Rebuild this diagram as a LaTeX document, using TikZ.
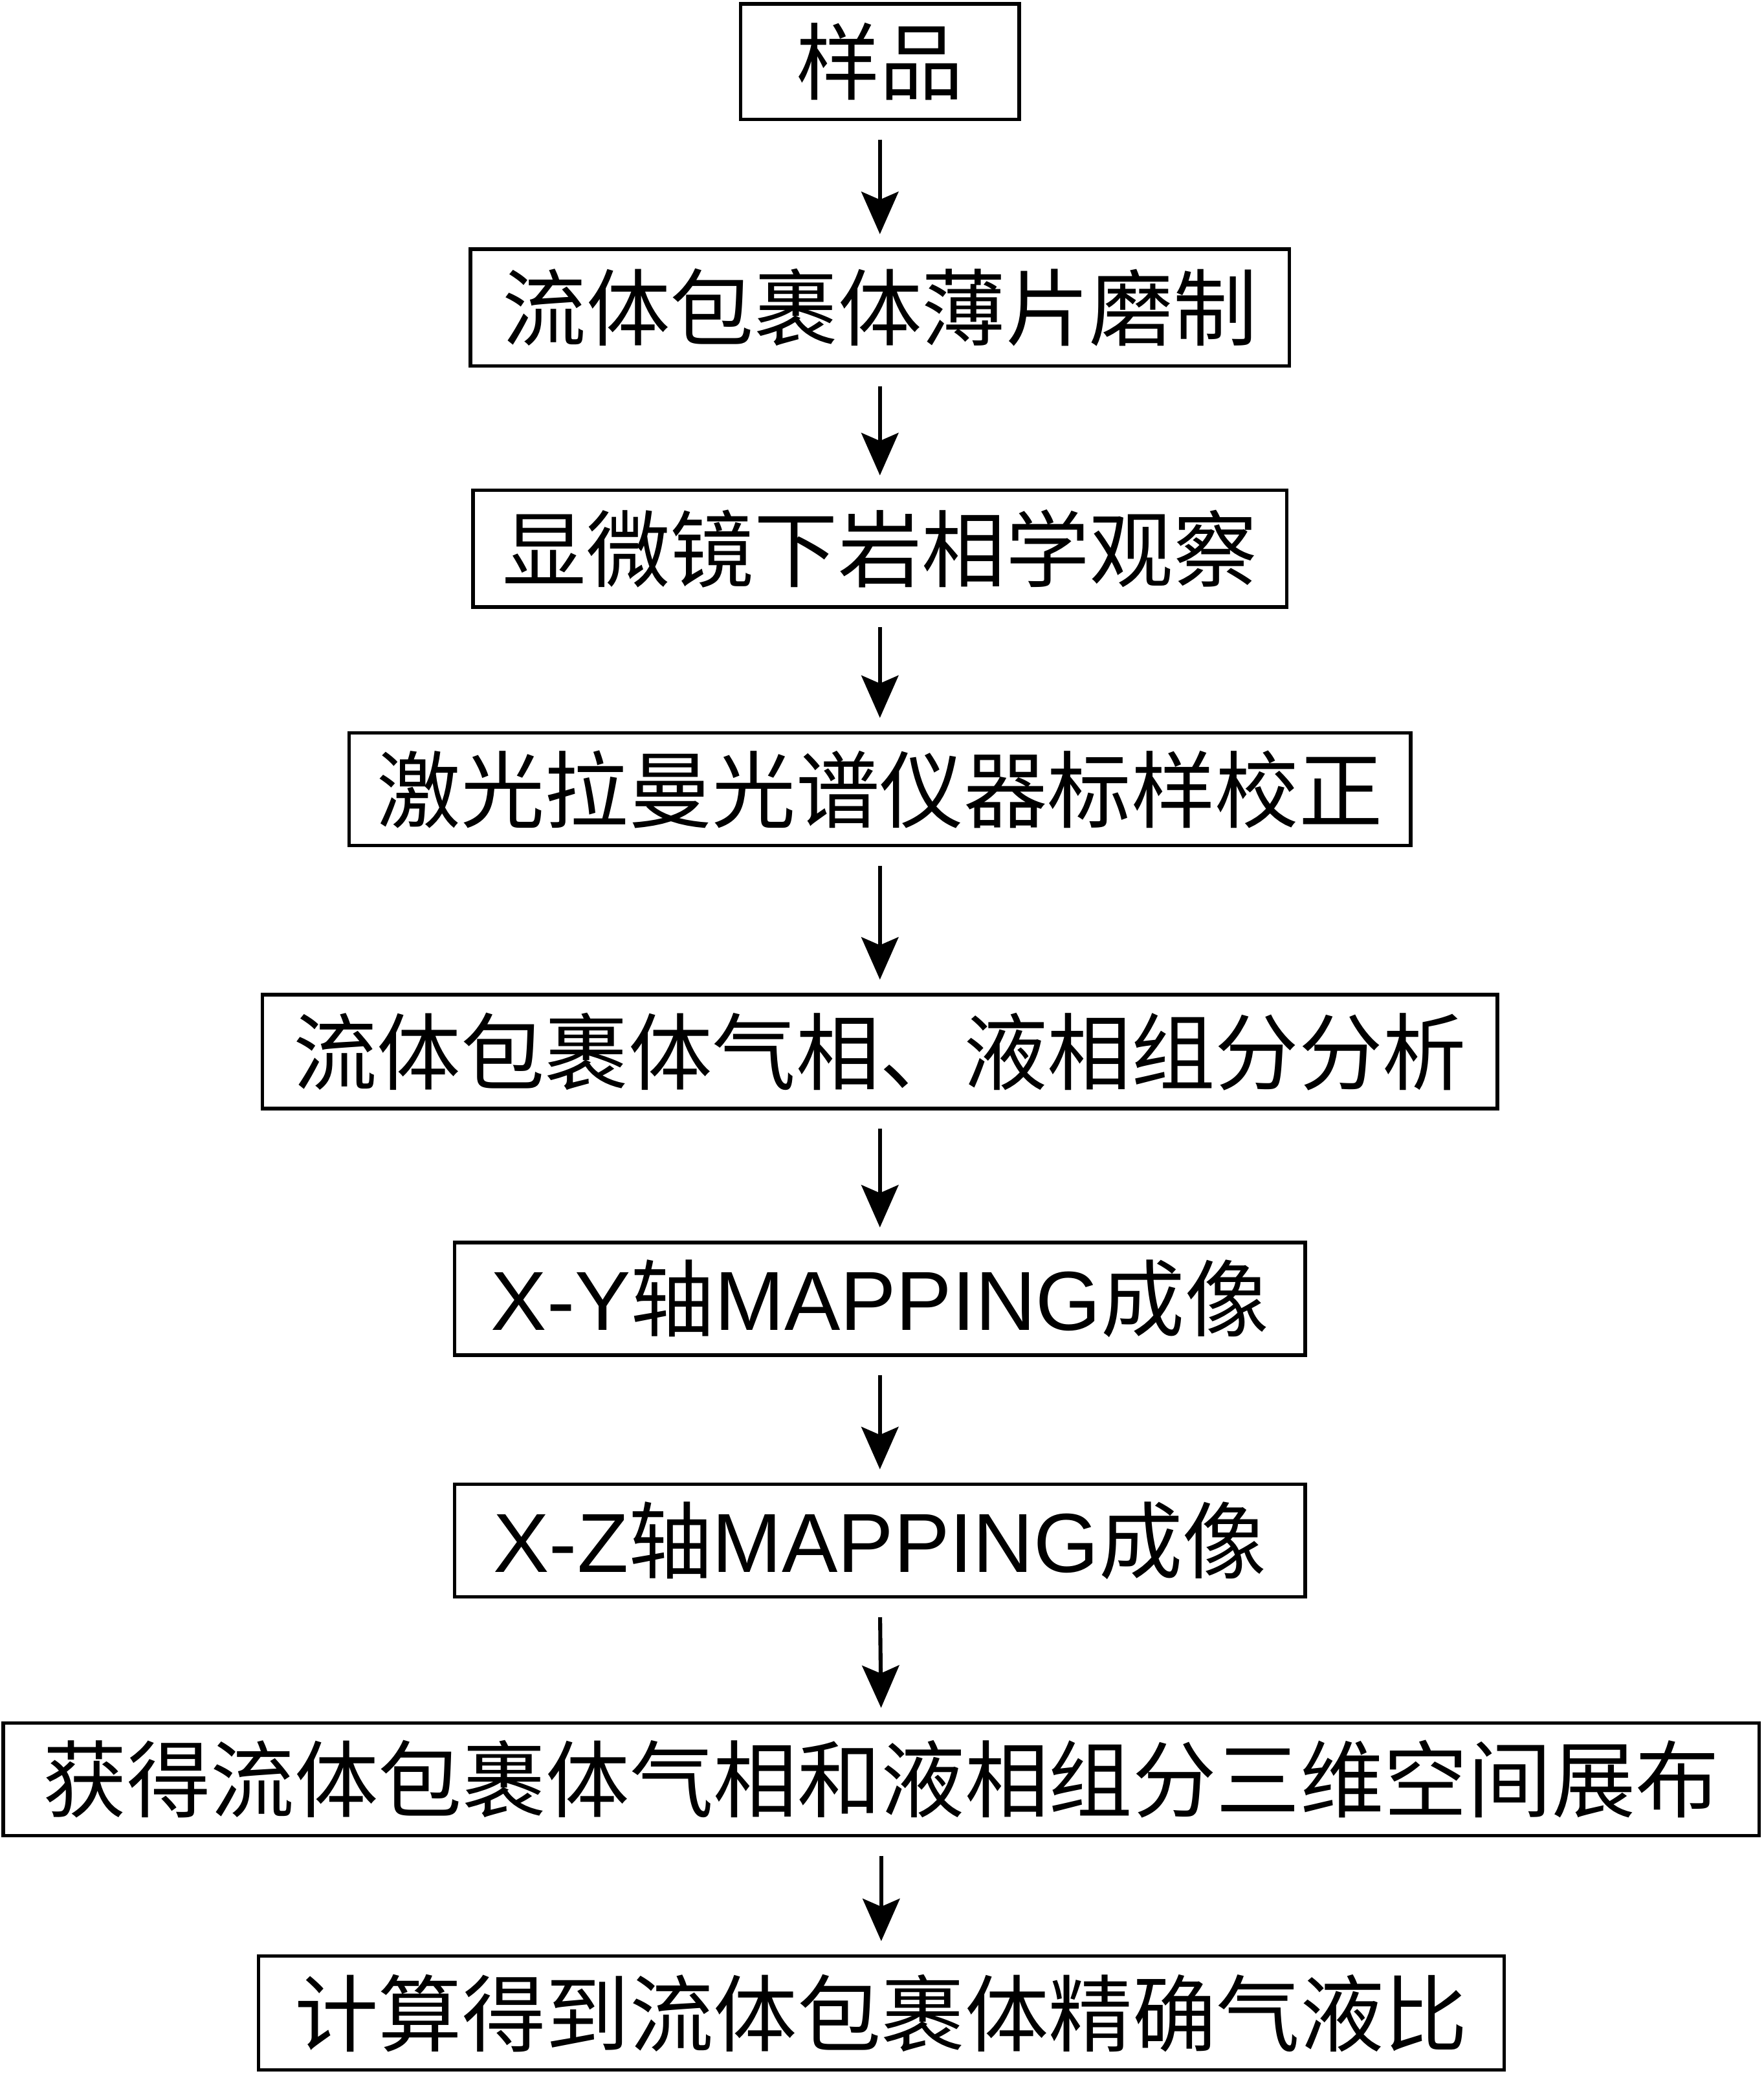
\documentclass[tikz,border=0pt]{standalone}
\usepackage{fontspec}
\usetikzlibrary{arrows.meta}
\newfontfamily\cjk{Noto Sans CJK SC}
\newfontfamily\latinsans{Liberation Sans}
\newcommand{\lat}[1]{{\latinsans #1}}
\tikzset{
  stepbox/.style={draw, line width=1.5pt, inner sep=0pt, align=center,
    font=\cjk\fontsize{36pt}{40pt}\selectfont},
  flowarrow/.style={-{Stealth[length=0.64cm,width=0.56cm,inset=0.12cm]}, line width=1.7pt,
    shorten <=0.28cm, shorten >=0.2cm}
}
\begin{document}
\begin{tikzpicture}[x=0.02cm,y=-0.02cm]
\useasboundingbox (0,0) rectangle (1331,1568);
\node[stepbox, minimum width=210*0.02cm, minimum height=87*0.02cm] (n1) at (664,46.5) {样品};
\node[stepbox, minimum width=618*0.02cm, minimum height=88*0.02cm] (n2) at (664,232) {流体包裹体薄片磨制};
\node[stepbox, minimum width=614*0.02cm, minimum height=88*0.02cm] (n3) at (664,414) {显微镜下岩相学观察};
\node[stepbox, minimum width=801*0.02cm, minimum height=85*0.02cm] (n4) at (664,595.5) {激光拉曼光谱仪器标样校正};
\node[stepbox, minimum width=932*0.02cm, minimum height=86*0.02cm] (n5) at (664,793.5) {流体包裹体气相、液相组分分析};
\node[stepbox, minimum width=642*0.02cm, minimum height=85*0.02cm] (n6) at (664,980) {\lat{X-Y}轴\lat{MAPPING}成像};
\node[stepbox, minimum width=642*0.02cm, minimum height=85*0.02cm] (n7) at (664,1162.5) {\lat{X-Z}轴\lat{MAPPING}成像};
\node[stepbox, minimum width=1325*0.02cm, minimum height=85*0.02cm] (n8) at (665,1342.5) {获得流体包裹体气相和液相组分三维空间展布};
\node[stepbox, minimum width=940*0.02cm, minimum height=86*0.02cm] (n9) at (665,1519) {计算得到流体包裹体精确气液比};
\foreach \a/\b in {n1/n2,n2/n3,n3/n4,n4/n5,n5/n6,n6/n7,n7/n8,n8/n9}
  \draw[flowarrow] (\a.south) -- (\b.north);
\end{tikzpicture}
\end{document}
